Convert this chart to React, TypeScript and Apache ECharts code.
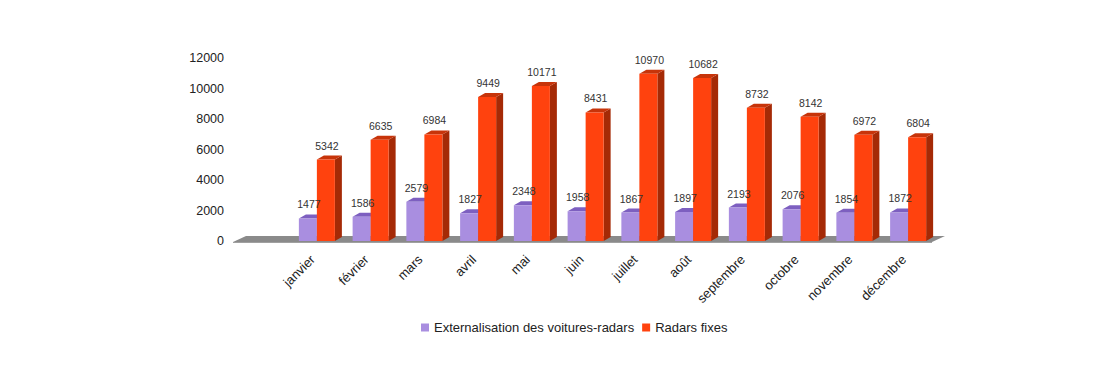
import React, { useEffect, useRef } from "react";
import * as echarts from "echarts";

const months = [
  "janvier", "février", "mars", "avril", "mai", "juin",
  "juillet", "août", "septembre", "octobre", "novembre", "décembre",
];
const voituresRadars = [1477, 1586, 2579, 1827, 2348, 1958, 1867, 1897, 2193, 2076, 1854, 1872];
const radarsFixes = [5342, 6635, 6984, 9449, 10171, 8431, 10970, 10682, 8732, 8142, 6972, 6804];
const seriesNames = ["Externalisation des voitures-radars", "Radars fixes"];

const FONT = "'Liberation Sans', Arial, sans-serif";

function makeBarRender(side: "left" | "right", front: string, top: string, sideColor: string) {
  return (params: any, api: any) => {
    const idx = api.value(0);
    const v = api.value(1);
    const t = api.coord([idx, v]);
    const b = api.coord([idx, 0]);
    const band = api.size([1, 0])[0];
    const w = band * 0.335;
    const dx = 7;
    const dy = 4;
    const x0 = side === "left" ? t[0] - w : t[0];
    const x1 = x0 + w;
    const yt = t[1];
    const yb = b[1];
    return {
      type: "group",
      children: [
        {
          type: "polygon",
          z2: 1,
          shape: { points: [[x1, yb], [x1 + dx, yb - dy], [x1 + dx, yt - dy], [x1, yt]] },
          style: { fill: sideColor },
        },
        {
          type: "polygon",
          z2: 1,
          shape: { points: [[x0, yt], [x1, yt], [x1 + dx, yt - dy], [x0 + dx, yt - dy]] },
          style: { fill: top },
        },
        {
          type: "rect",
          z2: 1,
          shape: { x: x0, y: yt, width: w, height: yb - yt },
          style: { fill: front },
        },
        {
          type: "text",
          z2: 100,
          x: (x0 + x1) / 2 + 1,
          y: yt - 14,
          style: {
            text: String(v),
            fill: "#333",
            fontSize: 10.5,
            fontFamily: FONT,
            align: "center",
            verticalAlign: "middle",
          },
        },
      ],
    };
  };
}

function floorRender(params: any, api: any) {
  const cs = params.coordSys;
  const yb = cs.y + cs.height;
  const left = cs.x - 57;
  const right = cs.x + cs.width - 3;
  return {
    type: "group",
    children: [
      {
        type: "polygon",
        shape: {
          points: [
            [left, yb + 1],
            [right, yb + 1],
            [right + 13, yb - 5],
            [left + 13, yb - 5],
          ],
        },
        style: { fill: "#8a8a8a" },
      },
      {
        type: "polygon",
        shape: {
          points: [
            [left, yb + 1],
            [right, yb + 1],
            [right, yb + 2],
            [left, yb + 2],
          ],
        },
        style: { fill: "#a0a0a0" },
      },
    ],
  };
}

export default function App() {
  const ref = useRef<HTMLDivElement>(null);
  useEffect(() => {
    if (!ref.current) return;
    const chart = echarts.init(ref.current, null, { renderer: "svg" });
    chart.setOption({
      animation: false,
      backgroundColor: "#ffffff",
      textStyle: { fontFamily: FONT },
      grid: { left: 290, top: 58, width: 645, height: 183 },
      legend: {
        data: seriesNames,
        left: 416,
        top: 316,
        icon: "rect",
        itemWidth: 8,
        itemHeight: 8,
        itemGap: 8,
        textStyle: { fontSize: 13, color: "#222", fontFamily: FONT },
      },
      xAxis: {
        type: "category",
        data: months,
        axisLine: { show: false },
        axisTick: { show: false },
        axisLabel: {
          rotate: 45,
          margin: 12,
          padding: [0, 6, 0, 0],
          fontSize: 13,
          color: "#222",
          fontFamily: FONT,
          interval: 0,
        },
      },
      yAxis: {
        type: "value",
        min: 0,
        max: 12000,
        interval: 2000,
        axisLine: { show: false },
        axisTick: { show: false },
        splitLine: { show: false },
        axisLabel: {
          fontSize: 12.5,
          color: "#222",
          margin: 66,
          fontFamily: FONT,
          formatter: (v: number) => String(v),
        },
      },
      series: [
        {
          name: "floor",
          type: "custom",
          clip: false,
          z: 1,
          silent: true,
          data: [[0, 0]],
          encode: { x: 0, y: 1 },
          renderItem: floorRender,
        },
        {
          name: seriesNames[0],
          type: "custom",
          clip: false,
          z: 2,
          itemStyle: { color: "#a98ee0" },
          data: voituresRadars.map((v, i) => [i, v]),
          encode: { x: 0, y: 1 },
          renderItem: makeBarRender("left", "#a98ee0", "#7d5fc0", "#6a4fa8"),
        },
        {
          name: seriesNames[1],
          type: "custom",
          clip: false,
          z: 2,
          itemStyle: { color: "#ff420e" },
          data: radarsFixes.map((v, i) => [i, v]),
          encode: { x: 0, y: 1 },
          renderItem: makeBarRender("right", "#ff420e", "#c7340a", "#a52a06"),
        },
      ],
    });
    return () => chart.dispose();
  }, []);
  return (
    <div
      ref={ref}
      style={{ position: "absolute", left: 0, top: 0, width: 1100, height: 374 }}
    />
  );
}
